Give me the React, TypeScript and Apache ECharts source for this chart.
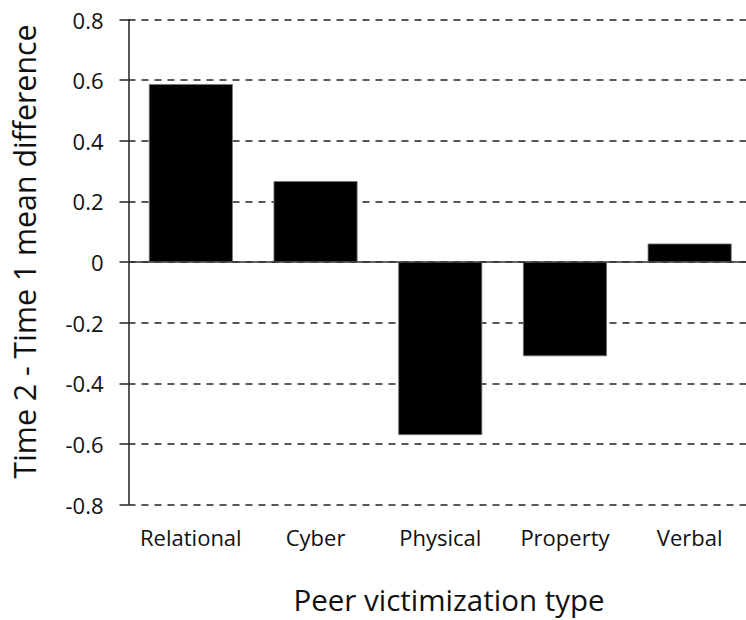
import React, { useEffect, useRef } from "react";
import * as echarts from "echarts";

const categories = ["Relational", "Cyber", "Physical", "Property", "Verbal"];
const meanDifference = [0.587, 0.267, -0.571, -0.311, 0.061];
const yTicks = { min: -0.8, max: 0.8, interval: 0.2 };
const yAxisTitle = "Time 2 - Time 1 mean difference";
const xAxisTitle = "Peer victimization type";

const FONT = "'Open Sans', 'Noto Sans', sans-serif";

export default function App() {
  const ref = useRef<HTMLDivElement>(null);
  useEffect(() => {
    if (!ref.current) return;
    const chart = echarts.init(ref.current, null, { renderer: "svg" });
    chart.setOption({
      animation: false,
      backgroundColor: "#ffffff",
      grid: { left: 128.5, top: 19.5, width: 623.5, height: 485, containLabel: false },
      xAxis: {
        type: "category",
        data: categories,
        axisLine: { show: false, onZero: false },
        axisTick: { show: false },
        axisLabel: { interval: 0, color: "#111", fontFamily: FONT, fontSize: 22, margin: 21 },
        splitLine: { show: false },
      },
      yAxis: {
        type: "value",
        min: yTicks.min,
        max: yTicks.max,
        interval: yTicks.interval,
        axisLine: { show: true, lineStyle: { color: "#222", width: 1.5 } },
        axisTick: { show: true, inside: false, length: 9, lineStyle: { color: "#222", width: 1.5 } },
        axisLabel: { color: "#111", fontFamily: FONT, fontSize: 22, margin: 25 },
        splitLine: { show: true, lineStyle: { color: "#222", width: 1.5, type: [7, 6] } },
      },
      series: [
        {
          type: "bar",
          data: meanDifference,
          barWidth: 84,
          itemStyle: { color: "#000", borderColor: "#777", borderWidth: 0.8 },
          markLine: {
            silent: true,
            symbol: "none",
            label: { show: false },
            lineStyle: { color: "#333", width: 1.5, type: "solid" },
            data: [{ yAxis: 0 }],
          },
        },
      ],
      graphic: [
        {
          type: "text",
          x: 24,
          y: 251.5,
          rotation: Math.PI / 2,
          style: {
            text: yAxisTitle,
            fontFamily: FONT,
            fontSize: 30.3,
            fill: "#111",
            textAlign: "center",
            textVerticalAlign: "middle",
          },
        },
        {
          type: "text",
          x: 449,
          y: 599,
          style: {
            text: xAxisTitle,
            fontFamily: FONT,
            fontSize: 29.5,
            fill: "#111",
            textAlign: "center",
            textVerticalAlign: "middle",
          },
        },
      ],
    });
    return () => chart.dispose();
  }, []);
  return (
    <div style={{ position: "fixed", left: 0, top: 0, width: 746, height: 620, overflow: "hidden" }}>
      <div ref={ref} style={{ width: 760, height: 620 }} />
    </div>
  );
}
